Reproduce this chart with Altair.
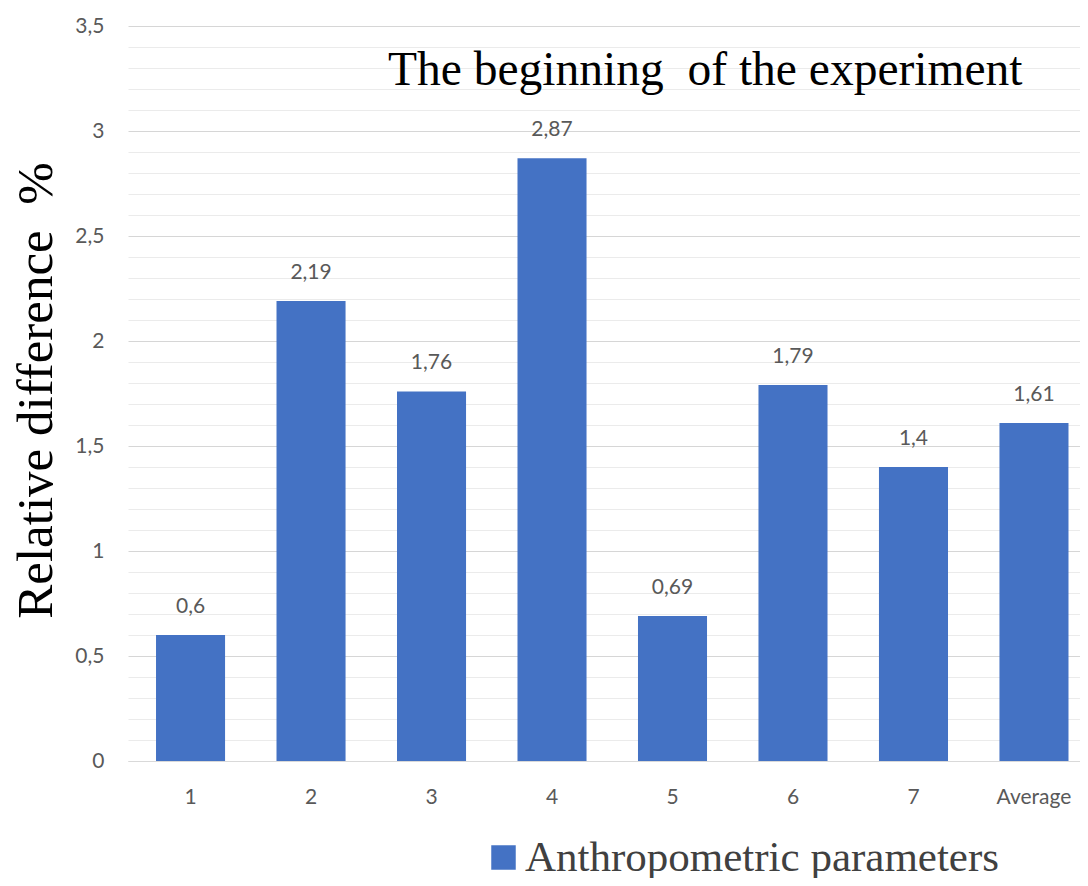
import altair as alt
import pandas as pd

categories = ["1", "2", "3", "4", "5", "6", "7", "Average"]
values = [0.6, 2.19, 1.76, 2.87, 0.69, 1.79, 1.4, 1.61]
series_name = "Anthropometric parameters"
chart_title = "The beginning\u00a0 of the experiment"
y_title = "Relative difference\u00a0 %"
y_ticks = [0.0, 0.1, 0.2, 0.3, 0.4, 0.5, 0.6, 0.7, 0.8, 0.9,
           1.0, 1.1, 1.2, 1.3, 1.4, 1.5, 1.6, 1.7, 1.8, 1.9,
           2.0, 2.1, 2.2, 2.3, 2.4, 2.5, 2.6, 2.7, 2.8, 2.9,
           3.0, 3.1, 3.2, 3.3, 3.4, 3.5]

df = pd.DataFrame({"cat": categories, "val": values, "series": [series_name] * len(categories)})

SANS = "Lato"
SERIF = "Liberation Serif"
GRAY = "#595959"

x_enc = alt.X(
    "cat:N",
    sort=categories,
    scale=alt.Scale(paddingInner=0.427, paddingOuter=0.164, align=0.709),
    axis=alt.Axis(
        title=None, labelAngle=0, ticks=False, domain=True, domainColor="#d9d9d9",
        labelFont=SANS, labelFontSize=21, labelColor=GRAY, labelPadding=25, grid=False,
    ),
)
y_enc = alt.Y(
    "val:Q",
    scale=alt.Scale(domain=[0, 3.5], nice=False),
    axis=alt.Axis(
        values=y_ticks,
        tickCount=len(y_ticks) + 4,
        title=y_title,
        titleFont=SERIF, titleFontSize=51, titleFontWeight="normal", titleColor="#000000",
        titleX=-92, titleY=364, titleAngle=270, titleBaseline="middle", titleAlign="center",
        labelExpr="round(datum.value*10) % 5 === 0 ? replace(format(datum.value, '~g'), '.', ',') : ''",
        labelOverlap=False,
        labelFont=SANS, labelFontSize=21, labelColor=GRAY, labelPadding=24,
        ticks=False, domain=False, grid=True,
        gridColor={"condition": {"test": "round(datum.value*10) % 5 === 0", "value": "#d6d6d6"},
                   "value": "#ebebeb"},
        gridWidth=1,
    ),
)

bars = alt.Chart(df).mark_bar(color="#4472C4").encode(
    x=x_enc,
    y=y_enc,
    color=alt.Color(
        "series:N",
        scale=alt.Scale(range=["#4472C4"]),
        legend=alt.Legend(
            title=None, orient="none", legendX=354, legendY=810, padding=0,
            symbolType="square", symbolSize=600, symbolStrokeWidth=0, symbolOpacity=1,
            labelFont=SERIF, labelFontSize=43, labelColor="#404040", labelOffset=0,
            labelLimit=800,
        ),
    ),
)

labels = alt.Chart(df).transform_calculate(
    lab="replace(format(datum.val, '~g'), '.', ',')"
).mark_text(
    font=SANS, fontSize=21, color=GRAY, baseline="alphabetic", dy=-22
).encode(
    x=alt.X("cat:N", sort=categories),
    y="val:Q",
    text="lab:N",
)

title_df = pd.DataFrame({"t": [chart_title]})
title_mark = alt.Chart(title_df).mark_text(
    font=SERIF, fontSize=47.5, color="#000000", align="left", baseline="alphabetic"
).encode(
    x=alt.value(260),
    y=alt.value(59),
    text="t:N",
)

chart = alt.layer(bars, labels, title_mark).properties(
    width=952,
    height=735,
    padding={"left": 120, "top": 18, "right": 0, "bottom": 117},
    autosize=alt.AutoSizeParams(type="none"),
    background="white",
).configure_view(stroke=None)

chart.save("out.html", embed_options={"renderer": "svg", "actions": False})
